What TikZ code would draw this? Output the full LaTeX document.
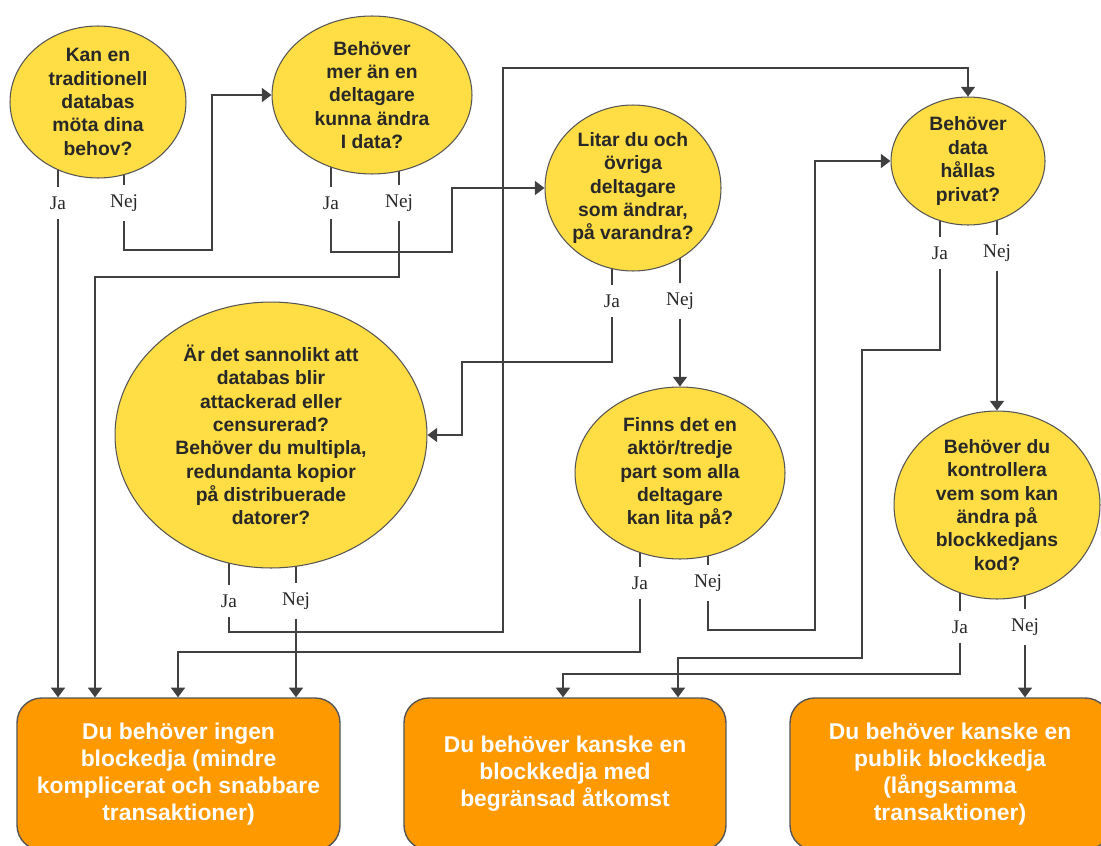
\documentclass[tikz,border=0pt]{standalone}
\usepackage{fontspec}
\setmainfont{Liberation Serif}
\setsansfont{Liberation Sans}
\usetikzlibrary{shapes}
\usetikzlibrary{arrows.meta}
\usetikzlibrary{calc}

\definecolor{gul}{RGB}{255,221,68}
\definecolor{svarorange}{RGB}{255,153,0}
\definecolor{kant}{RGB}{85,85,85}
\definecolor{pilgra}{RGB}{64,64,64}
\definecolor{fragtext}{RGB}{40,40,40}

\pgfdeclarelayer{background}
\pgfsetlayers{background,main}

\begin{document}
\begin{tikzpicture}[x=0.02cm,y=-0.02cm]
\tikzstyle{fraga} = [ellipse, draw=kant, line width=0.6pt, fill=gul, inner sep=-1pt,
align=center, text=fragtext, font=\sffamily\bfseries\fontsize{11}{13.3}\selectfont]
\tikzstyle{svar} = [rectangle, draw=kant, line width=0.8pt, fill=svarorange,
rounded corners=14pt, minimum height=3.04cm, align=center, text=white,
font=\sffamily\bfseries\fontsize{13}{15.4}\selectfont]
\tikzstyle{val} = [inner sep=5pt, text=fragtext, font=\rmfamily\fontsize{11}{13}\selectfont]
\tikzstyle{streck} = [draw=pilgra, line width=0.8pt]
\tikzstyle{pil} = [draw=pilgra, line width=0.8pt, -{Triangle[width=8pt,length=5.5pt]}]

\useasboundingbox (0,0) rectangle (1101,845);

% questions
\node [fraga, minimum width=3.52cm, minimum height=3.04cm] (databas) at (98,102)
  {Kan en\\traditionell\\databas\\möta dina\\behov?};
\node [fraga, minimum width=4.0cm, minimum height=3.16cm] (deltagare) at (372,95)
  {Behöver\\mer än en\\deltagare\\kunna ändra\\I data?};
\node [fraga, minimum width=3.52cm, minimum height=3.32cm] (litar) at (633,188)
  {Litar du och\\övriga\\deltagare\\som ändrar,\\på varandra?};
\node [fraga, minimum width=3.08cm, minimum height=2.56cm] (privat) at (968,161)
  {Behöver\\data\\hållas\\privat?};
\node [fraga, minimum width=6.24cm, minimum height=5.32cm] (attack) at (271,435)
  {Är det sannolikt att\\databas blir\\attackerad eller\\censurerad?\\Behöver du multipla,\\redundanta kopior\\på distribuerade\\datorer?};
\node [fraga, minimum width=4.2cm, minimum height=3.44cm] (tredje) at (680,473)
  {Finns det en\\aktör/tredje\\part som alla\\deltagare\\kan lita på?};
\node [fraga, minimum width=4.12cm, minimum height=3.76cm] (kod) at (997,505)
  {Behöver du\\kontrollera\\vem som kan\\ändra på\\blockkedjans\\kod?};

% answers
\node [svar, minimum width=6.46cm] (ingen) at (178.5,774)
  {Du behöver ingen\\blockedja (mindre\\komplicerat och snabbare\\transaktioner)};
\node [svar, minimum width=6.44cm] (begransad) at (565,774)
  {Du behöver kanske en\\blockkedja med\\begränsad åtkomst};
\node [svar, minimum width=6.4cm] (publik) at (950,774)
  {Du behöver kanske en\\publik blockkedja\\(långsamma\\transaktioner)};

% Ja / Nej
\node [val] (databasja) at (58,203) {Ja};
\node [val] (databasnej) at (124,203) {Nej};
\node [val] (deltagareja) at (331,203) {Ja};
\node [val] (deltagarenej) at (399,203) {Nej};
\node [val] (litarja) at (612,301) {Ja};
\node [val] (litarnej) at (680,301) {Nej};
\node [val] (privatja) at (940,253) {Ja};
\node [val] (privatnej) at (997,253) {Nej};
\node [val] (attackja) at (229,601) {Ja};
\node [val] (attacknej) at (296,601) {Nej};
\node [val] (tredjeja) at (640,583) {Ja};
\node [val] (tredjenej) at (708,583) {Nej};
\node [val] (kodja) at (960,627) {Ja};
\node [val] (kodnej) at (1025,627) {Nej};

\begin{pgfonlayer}{background}
\foreach \v/\q in {databasja/databas, databasnej/databas, deltagareja/deltagare,
  deltagarenej/deltagare, litarja/litar, litarnej/litar, privatja/privat,
  privatnej/privat, attackja/attack, attacknej/attack, tredjeja/tredje,
  tredjenej/tredje, kodja/kod, kodnej/kod}
  \draw [streck] (\v.north) -- (\v |- \q.center);
\end{pgfonlayer}

\draw [pil] (databasja) -- (databasja |- ingen.north);
\draw [pil] (databasnej) |- (212,250) |- (deltagare.west);
\draw [pil] (deltagareja) |- (452,252) |- (litar.west);
\draw [pil] (deltagarenej) |- (95,277) -- (95,277 |- ingen.north);
\draw [pil] (litarja) |- (462,362) |- (attack.east);
\draw [pil] (litarnej) -- (litarnej |- tredje.north);
\draw [pil] (attackja) |- (503,632) -- (503,68) -| (privat.north);
\draw [pil] (attacknej) -- (attacknej |- ingen.north);
\draw [pil] (tredjeja) |- (178,652) -- (178,652 |- ingen.north);
\draw [pil] (tredjenej) |- (815,630) |- (privat.west);
\draw [pil] (privatja) |- (862,350) |- (678,658) -- (678,658 |- begransad.north);
\draw [pil] (privatnej) -- (privatnej |- kod.north);
\draw [pil] (kodja) |- (563,674) -- (563,674 |- begransad.north);
\draw [pil] (kodnej) -- (kodnej |- publik.north);
\end{tikzpicture}
\end{document}
